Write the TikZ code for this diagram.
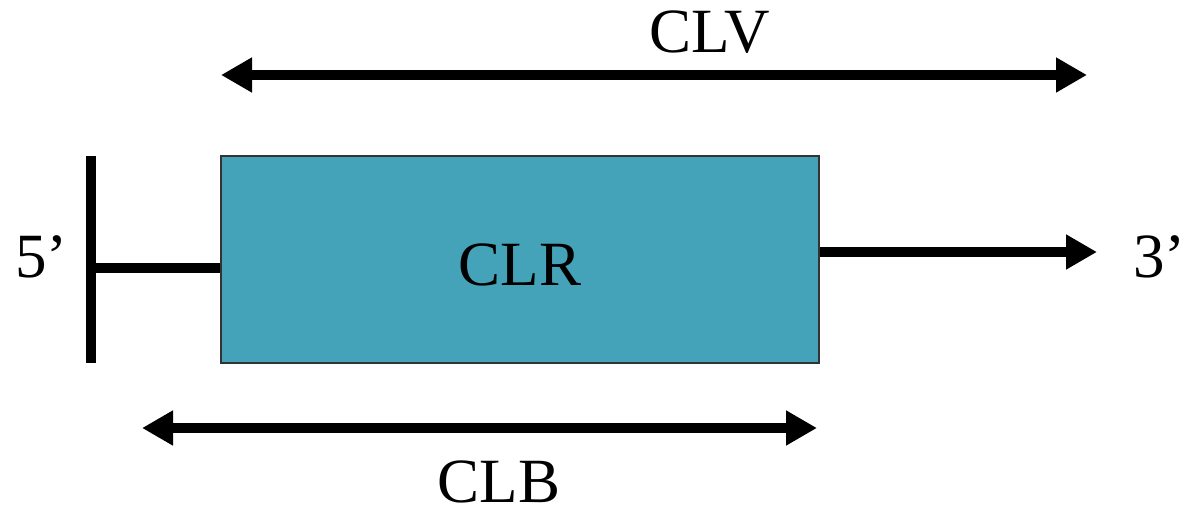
\documentclass[tikz,border=0pt]{standalone}
\usepackage{fontspec}
\setmainfont{Liberation Serif}
\usetikzlibrary{arrows.meta}
\definecolor{boxteal}{HTML}{44A3B8}
\begin{document}
\begin{tikzpicture}[x=1pt,y=-1pt,
  lbl/.style={inner sep=0pt,text depth=0pt,font=\fontsize{63}{75}\selectfont},
  thick line/.style={line width=10.5pt,line cap=butt},
  tip/.style={-{Triangle[length=31pt,width=33pt]}},
  dtip/.style={{Triangle[length=31pt,width=33pt]}-{Triangle[length=31pt,width=33pt]}},
  regionbox/.style={draw=black!80,line width=1.5pt,fill=boxteal,minimum width=598pt,minimum height=207pt,inner sep=0pt,text height=51pt,text depth=0pt,font=\fontsize{63}{75}\selectfont}]
\useasboundingbox (0,0) rectangle (1196,505);
\node[regionbox] (clr) at (520,259.5) {CLR};
% 5' cap
\coordinate (bartop) at (91,156);
\coordinate (barbot) at (91,363);
\draw[thick line] (bartop) -- (barbot);
\coordinate (barmid) at (91,268);
\draw[thick line] (barmid) -- (clr.west |- barmid);
% 3' arrow
\coordinate (tail) at (clr.east |- 0,252);
\coordinate (tailend) at (1097,252);
\draw[thick line,tip] (tail) -- (tailend);
% CLV
\coordinate (clvL) at (221,75);
\coordinate (clvR) at (1087,75);
\draw[thick line,dtip] (clvL) -- (clvR);
% CLB
\coordinate (clbL) at (142,428);
\coordinate (clbR) at (817,428);
\draw[thick line,dtip] (clbL) -- (clbR);
% labels
\node[lbl,anchor=base] (clv) at (710,53) {CLV};
\node[lbl,anchor=base] (clb) at (499,502) {CLB};
\node[lbl,anchor=base west] (five) at (15,277) {5’};
\node[lbl,anchor=base west] (three) at (1133,277) {3’};
\end{tikzpicture}
\end{document}
